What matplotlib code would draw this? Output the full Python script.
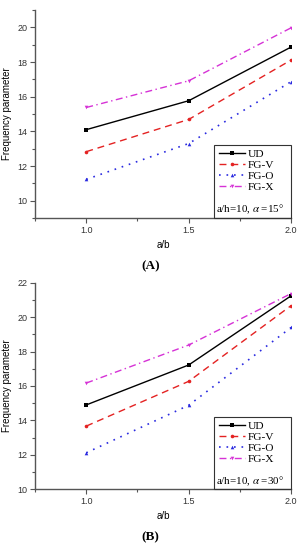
import matplotlib
matplotlib.use('Agg')
import matplotlib.pyplot as plt
from matplotlib.patches import Rectangle
from matplotlib.ticker import MultipleLocator

# data
ab = [1.0, 1.5, 2.0]
series_names = ['UD', 'FG-V', 'FG-O', 'FG-X']

ud_a = [14.1, 15.77, 18.87]
fgv_a = [12.83, 14.69, 18.12]
fgo_a = [11.23, 13.30, 16.87]
fgx_a = [15.38, 16.92, 19.98]

ud_b = [14.9, 17.22, 21.24]
fgv_b = [13.67, 16.27, 20.67]
fgo_b = [12.12, 14.88, 19.40]
fgx_b = [16.17, 18.38, 21.37]

params_a = 'a/h=10, $\\alpha$ =15°'
params_b = 'a/h=10, $\\alpha$ =30°'

styles = [dict(color='black', ls='-', marker='s', lw=1.0),
          dict(color='#e42222', ls=(0, (5, 3.5)), marker='o', lw=1.0),
          dict(color='#2a2ae0', ls=(0, (1, 3.5)), marker='^', lw=1.2),
          dict(color='#d632d6', ls=(0, (5, 2.5, 1, 2.5)), marker='v', lw=1.0)]

sans = ['Liberation Sans', 'DejaVu Sans']
serif = ['Liberation Serif', 'DejaVu Serif']
plt.rcParams['mathtext.fontset'] = 'stix'
spine_col = '#555555'


def draw_panel(ax, data, params, ylim, tag):
    for vals, name, st in zip(data, series_names, styles):
        ax.plot(ab, vals, label=name, markersize=2.6, markeredgewidth=0, **st)
    ax.set_xlim(0.75, 2.0)
    ax.set_ylim(*ylim)
    ax.xaxis.set_major_locator(MultipleLocator(0.5))
    ax.xaxis.set_minor_locator(MultipleLocator(0.25))
    ax.yaxis.set_major_locator(MultipleLocator(2))
    ax.yaxis.set_minor_locator(MultipleLocator(1))
    for s in ['top', 'right']:
        ax.spines[s].set_visible(False)
    for s in ['left', 'bottom']:
        ax.spines[s].set_color(spine_col)
        ax.spines[s].set_linewidth(1.0)
    ax.tick_params(which='major', length=3.5, width=0.8, color=spine_col,
                   labelsize=6.5, labelcolor='#333333', pad=2)
    ax.tick_params(which='minor', length=2, width=0.8, color=spine_col)
    for lab in ax.get_xticklabels() + ax.get_yticklabels():
        lab.set_family(sans)
    ax.set_ylabel('Frequency parameter', fontsize=7, family=sans, labelpad=4)
    ax.set_xlabel('a/b', fontsize=7, family=sans, labelpad=4)

    # legend box with parameter line
    ax.add_patch(Rectangle((0.699, 0.0), 0.301, 0.351, transform=ax.transAxes,
                           fill=False, edgecolor='#333333', lw=0.8, clip_on=False, zorder=5))
    ax.legend(loc='upper left', bbox_to_anchor=(0.7, 0.351), frameon=False,
              prop={'family': serif, 'size': 8.2}, handlelength=2.3,
              handletextpad=0.25, labelspacing=0.12, borderpad=0.38,
              borderaxespad=0, handleheight=0.6)
    ax.text(0.708, 0.008, params, transform=ax.transAxes, fontsize=7.9,
            family=serif, ha='left', va='bottom')
    ax.text(0.45, -0.23, tag, transform=ax.transAxes, fontsize=9.5,
            family=serif, fontweight='bold', ha='center', va='center')


fig = plt.figure(figsize=(3.02, 5.5), dpi=100)
ax_a = fig.add_axes([0.116, 0.6036, 0.848, 0.378])
ax_b = fig.add_axes([0.116, 0.1104, 0.848, 0.3756])

draw_panel(ax_a, [ud_a, fgv_a, fgo_a, fgx_a], params_a, (9, 21), '(A)')
draw_panel(ax_b, [ud_b, fgv_b, fgo_b, fgx_b], params_b, (10, 22), '(B)')

fig.savefig('out.png', dpi=100)
